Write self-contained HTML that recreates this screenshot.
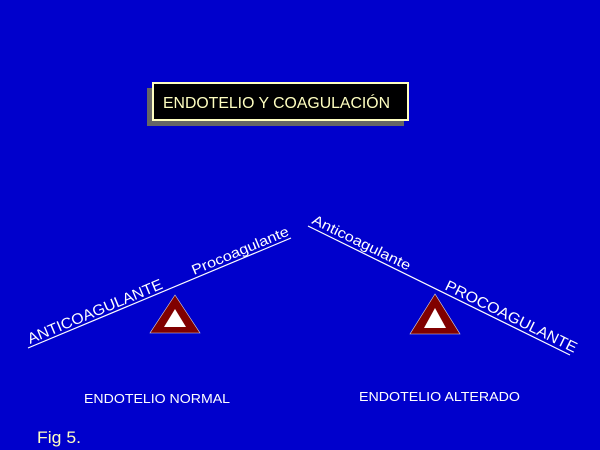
<!DOCTYPE html>
<html><head><style>html,body{margin:0;padding:0;background:#0000CC;}svg{display:block}</style></head>
<body>
<svg width="600" height="450" xmlns="http://www.w3.org/2000/svg" font-family="Liberation Sans, sans-serif">
<rect width="600" height="450" fill="#0000CC"/>
<rect x="147" y="88" width="257" height="38" fill="#666666"/>
<rect x="153" y="83" width="255" height="37" fill="#000" stroke="#FFFFC0" stroke-width="2"/>
<text x="163" y="108" font-size="16" fill="#FFFFC0" textLength="227" lengthAdjust="spacingAndGlyphs">ENDOTELIO Y COAGULACIÓN</text>
<line x1="28" y1="348" x2="291" y2="238" stroke="#fff" stroke-width="1.2"/>
<line x1="308" y1="226" x2="570" y2="355" stroke="#fff" stroke-width="1.2"/>
<polygon points="175,295 150,333 200,333" fill="#800000" stroke="#ddd" stroke-width="0.6"/>
<polygon points="175,309 164,327 186,327" fill="#fff"/>
<polygon points="435,294 410,334 460,334" fill="#800000" stroke="#ddd" stroke-width="0.6"/>
<polygon points="435,308 424,328 446,328" fill="#fff"/>
<text transform="translate(30,344) rotate(-22.7)" font-size="15" fill="#fff" textLength="145" lengthAdjust="spacingAndGlyphs">ANTICOAGULANTE</text>
<text transform="translate(194,275) rotate(-22.7)" font-size="14" fill="#fff" textLength="104" lengthAdjust="spacingAndGlyphs">Procoagulante</text>
<text transform="translate(311,223) rotate(26.2)" font-size="14" fill="#fff" textLength="108" lengthAdjust="spacingAndGlyphs">Anticoagulante</text>
<text transform="translate(444,289) rotate(26.2)" font-size="15" fill="#fff" textLength="145" lengthAdjust="spacingAndGlyphs">PROCOAGULANTE</text>
<text x="84" y="403" font-size="13" fill="#fff" textLength="146" lengthAdjust="spacingAndGlyphs">ENDOTELIO NORMAL</text>
<text x="359" y="401" font-size="13" fill="#fff" textLength="161" lengthAdjust="spacingAndGlyphs">ENDOTELIO ALTERADO</text>
<text x="37" y="443" font-size="17" fill="#FFFFC0" textLength="44" lengthAdjust="spacingAndGlyphs">Fig 5.</text>
</svg>
</body></html>
